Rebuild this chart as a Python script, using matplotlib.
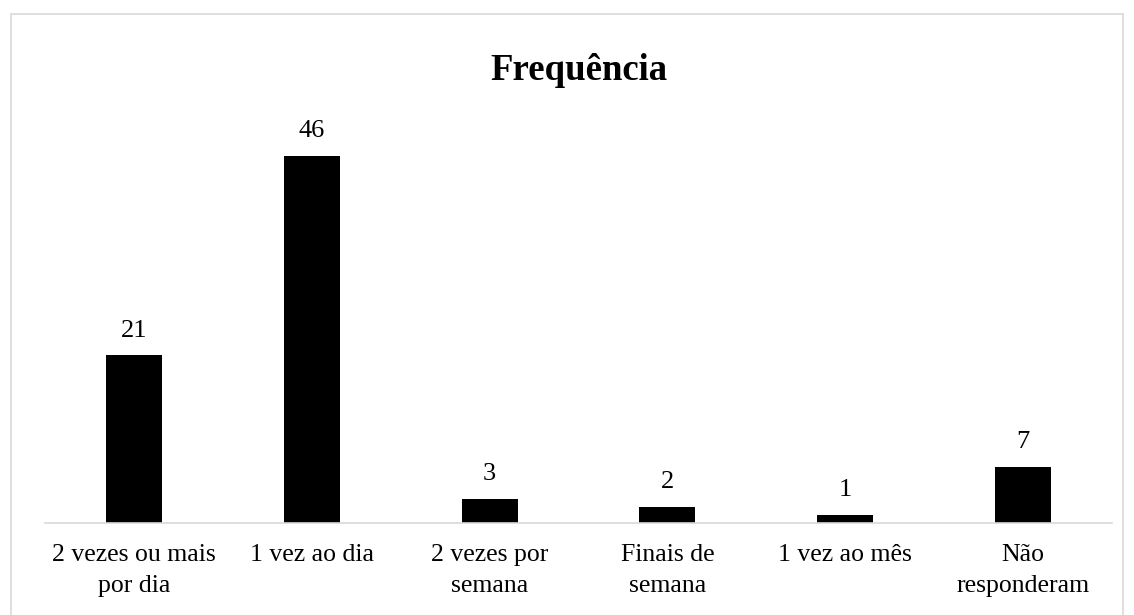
import matplotlib.pyplot as plt
from matplotlib.patches import Rectangle

categories = ['2 vezes ou mais\npor dia', '1 vez ao dia', '2 vezes por\nsemana',
              'Finais de\nsemana', '1 vez ao mês', 'Não\nresponderam']
values = [21, 46, 3, 2, 1, 7]

plt.rcParams['font.family'] = ['Liberation Serif', 'DejaVu Serif']

W, H = 1134, 615
fig = plt.figure(figsize=(W / 100, H / 100), dpi=100)

# moldura cinza clara em volta do gráfico
fig.patches.append(Rectangle((11 / W, -0.01), (1123 - 11) / W, 1 - 14 / H + 0.01,
                             transform=fig.transFigure, fill=False,
                             edgecolor='#d9d9d9', linewidth=1.2))

left, right = 45 / W, 1112 / W
bottom = 1 - 523 / H
top = 1 - 130 / H
ax = fig.add_axes([left, bottom, right - left, top - bottom])

x = range(len(categories))
bars = ax.bar(x, values, width=0.315, color='black')
ax.set_xlim(-0.5, len(categories) - 0.5)
ax.set_ylim(0, (523 - 130) / 7.98)

for rect, v in zip(bars, values):
    ax.annotate(f'{v}', xy=(rect.get_x() + rect.get_width() / 2, v),
                xytext=(0, 10), textcoords='offset points',
                ha='center', va='bottom', fontsize=19)

ax.set_xticks(list(x))
ax.set_xticklabels(categories, fontsize=18.5, linespacing=1.55)
ax.tick_params(axis='x', length=0, pad=15)
ax.set_yticks([])
for s in ['left', 'right', 'top']:
    ax.spines[s].set_visible(False)
ax.spines['bottom'].set_color('#d9d9d9')
ax.spines['bottom'].set_linewidth(1.2)

fig.text((left + right) / 2, 1 - 70 / H, 'Frequência', ha='center', va='center',
         fontsize=26.5, fontweight='bold')

fig.savefig('out.png', dpi=100)
